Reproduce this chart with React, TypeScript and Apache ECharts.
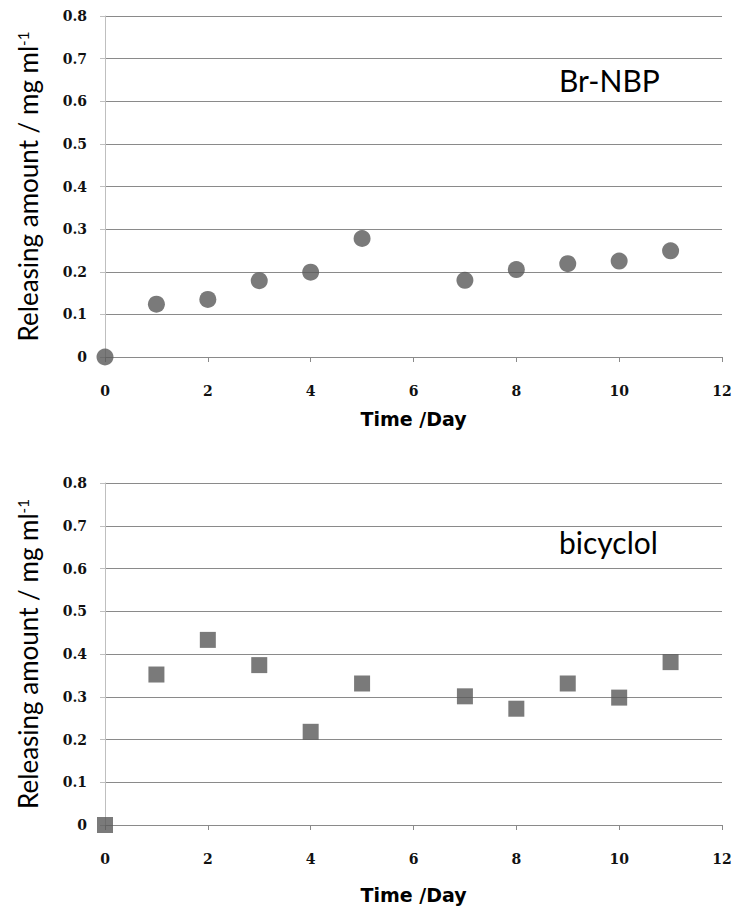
import React, { useEffect, useRef } from "react";
import * as echarts from "echarts";

const days: number[] = [0, 1, 2, 3, 4, 5, 7, 8, 9, 10, 11];
const brNbpValues: number[] = [0, 0.124, 0.135, 0.179, 0.199, 0.278, 0.18, 0.205, 0.219, 0.225, 0.249];
const bicyclolValues: number[] = [0, 0.352, 0.433, 0.374, 0.218, 0.331, 0.301, 0.272, 0.331, 0.298, 0.381];
const seriesNames: string[] = ["Br-NBP", "bicyclol"];
const xAxisTitle = "Time /Day";
const yAxisTitle = "Releasing amount / mg ml";

const TICK_FONT = "DejaVu Serif";
const SANS = "Lato";

function yAxisCfg(gridIndex: number) {
  return {
    type: "value",
    gridIndex,
    min: 0,
    max: 0.8,
    interval: 0.1,
    name: `{t|${yAxisTitle}}{s|-1}`,
    nameLocation: "middle",
    nameRotate: 90,
    nameGap: 64,
    nameTextStyle: {
      rich: {
        t: { fontFamily: SANS, fontSize: 26, color: "#000" },
        s: { fontFamily: SANS, fontSize: 15, color: "#000", verticalAlign: "top", padding: [0, 0, 11, 0] },
      },
    },
    axisLine: { show: true, lineStyle: { color: "#bfbfbf", width: 1 } },
    axisTick: { show: true, inside: false, length: 5, lineStyle: { color: "#bfbfbf" } },
    axisLabel: {
      margin: 18,
      fontFamily: TICK_FONT,
      fontWeight: "bold",
      fontSize: 14,
      color: "#111",
      formatter: (v: number) => (v === 0 ? "0" : v.toFixed(1)),
    },
    splitLine: { show: true, lineStyle: { color: "#8a8a8a", width: 1 } },
  };
}

function xAxisCfg(gridIndex: number, nameGap: number) {
  return {
    type: "value",
    gridIndex,
    min: 0,
    max: 12,
    interval: 2,
    name: xAxisTitle,
    nameLocation: "middle",
    nameGap,
    nameTextStyle: { fontFamily: "DejaVu Sans", fontWeight: "bold", fontSize: 19, color: "#000" },
    axisLine: { show: true, lineStyle: { color: "#8a8a8a", width: 1 } },
    axisTick: { show: true, inside: false, length: 5, lineStyle: { color: "#8a8a8a" } },
    axisLabel: {
      margin: 27,
      fontFamily: TICK_FONT,
      fontWeight: "bold",
      fontSize: 14,
      color: "#111",
    },
    splitLine: { show: false },
  };
}

export default function App() {
  const ref = useRef<HTMLDivElement>(null);
  useEffect(() => {
    if (!ref.current) return;
    const chart = echarts.init(ref.current, undefined, { renderer: "svg" });
    chart.setOption({
      animation: false,
      backgroundColor: "#ffffff",
      grid: [
        { left: 105, top: 16, width: 617, height: 341 },
        { left: 105, top: 483, width: 617, height: 342 },
      ],
      xAxis: [xAxisCfg(0, 52), xAxisCfg(1, 60)],
      yAxis: [yAxisCfg(0), yAxisCfg(1)],
      graphic: [
        { type: "text", left: 559, top: 65, style: { text: seriesNames[0], fontFamily: SANS, fontSize: 30, fill: "#000" } },
        { type: "text", left: 559, top: 527, style: { text: seriesNames[1], fontFamily: SANS, fontSize: 30, fill: "#000" } },
      ],
      series: [
        {
          name: seriesNames[0],
          type: "scatter",
          xAxisIndex: 0,
          yAxisIndex: 0,
          symbol: "circle",
          symbolSize: 17,
          itemStyle: { color: "#595959" },
          data: days.map((d, i) => [d, brNbpValues[i]]),
        },
        {
          name: seriesNames[1],
          type: "scatter",
          xAxisIndex: 1,
          yAxisIndex: 1,
          symbol: "rect",
          symbolSize: 16,
          itemStyle: { color: "#595959" },
          data: days.map((d, i) => [d, bicyclolValues[i]]),
        },
      ],
    });
    return () => chart.dispose();
  }, []);
  return (
    <div
      ref={ref}
      style={{ position: "fixed", left: 0, top: 0, width: 739, height: 914, background: "#fff" }}
    />
  );
}
